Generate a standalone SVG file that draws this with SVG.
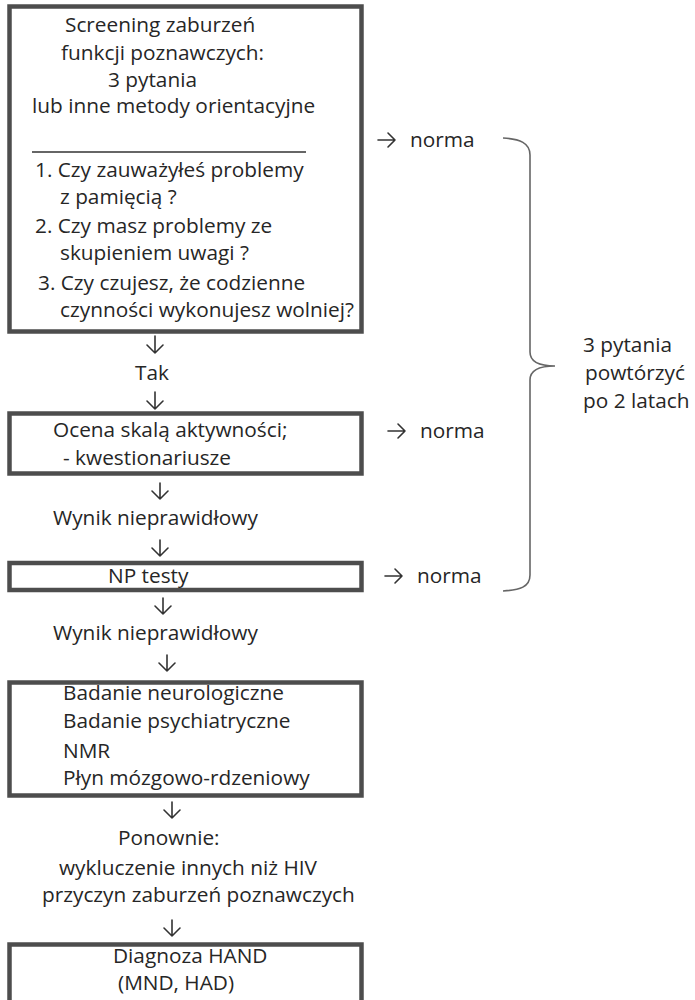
<svg xmlns="http://www.w3.org/2000/svg" width="695" height="1000" viewBox="0 0 695 1000">
<style>
.box{fill:#fff;stroke:#4d4d4d;stroke-width:4.5}
.t{font-family:"Open Sans","Liberation Sans",sans-serif;font-size:20.8px;fill:#262626}
.arr{fill:none;stroke:#333;stroke-width:1.6;stroke-linecap:round;stroke-linejoin:round}
.brace{fill:none;stroke:#666;stroke-width:1.6}
</style>
<rect width="695" height="1000" fill="#fff"/>
<g id="n1">
<rect class="box" x="9.5" y="6.5" width="352" height="325"/>
<text class="t" x="65" y="32">Screening zaburzeń</text>
<text class="t" x="61" y="60">funkcji poznawczych:</text>
<text class="t" x="108" y="87">3 pytania</text>
<text class="t" x="32" y="113">lub inne metody orientacyjne</text>
<line x1="32" y1="152" x2="306" y2="152" stroke="#333" stroke-width="1.3"/>
<text class="t" x="35" y="177">1. Czy zauważyłeś problemy</text>
<text class="t" x="60" y="204">z pamięcią ?</text>
<text class="t" x="35" y="233">2. Czy masz problemy ze</text>
<text class="t" x="60" y="260">skupieniem uwagi ?</text>
<text class="t" x="38" y="290">3. Czy czujesz, że codzienne</text>
<text class="t" x="60" y="317">czynności wykonujesz wolniej?</text>
</g>
<g id="tak"><text class="t" x="135" y="380">Tak</text></g>
<g id="n2">
<rect class="box" x="9.5" y="413.5" width="352" height="60"/>
<text class="t" x="53" y="437">Ocena skalą aktywności;</text>
<text class="t" x="63" y="465">- kwestionariusze</text>
</g>
<g id="w1"><text class="t" x="53" y="525">Wynik nieprawidłowy</text></g>
<g id="n3">
<rect class="box" x="9.5" y="563" width="352" height="27"/>
<text class="t" x="108" y="583">NP testy</text>
</g>
<g id="w2"><text class="t" x="53" y="640">Wynik nieprawidłowy</text></g>
<g id="n4">
<rect class="box" x="9.5" y="682.5" width="352" height="113"/>
<text class="t" x="63" y="700">Badanie neurologiczne</text>
<text class="t" x="63" y="728">Badanie psychiatryczne</text>
<text class="t" x="63" y="758">NMR</text>
<text class="t" x="63" y="785">Płyn mózgowo-rdzeniowy</text>
</g>
<g id="p1">
<text class="t" x="118" y="845">Ponownie:</text>
<text class="t" x="59" y="875">wykluczenie innych niż HIV</text>
<text class="t" x="42" y="902">przyczyn zaburzeń poznawczych</text>
</g>
<g id="n5">
<rect class="box" x="9.5" y="944.5" width="352" height="70"/>
<text class="t" x="113" y="963">Diagnoza HAND</text>
<text class="t" x="118" y="990">(MND, HAD)</text>
</g>
<g id="side">
<text class="t" x="410" y="147">norma</text>
<text class="t" x="420" y="438">norma</text>
<text class="t" x="417" y="583">norma</text>
<text class="t" x="583" y="352">3 pytania</text>
<text class="t" x="585" y="380">powtórzyć</text>
<text class="t" x="583" y="408">po 2 latach</text>
</g>
<g id="connectors">
<path class="arr" d="M155,336 V353 M147,345 L155,353 L163,345"/>
<path class="arr" d="M155,392 V409 M147,401 L155,409 L163,401"/>
<path class="arr" d="M160,483 V499 M152,491 L160,499 L168,491"/>
<path class="arr" d="M160,540 V556 M152,548 L160,556 L168,548"/>
<path class="arr" d="M163,598 V614 M155,606 L163,614 L171,606"/>
<path class="arr" d="M167,655 V671 M159,663 L167,671 L175,663"/>
<path class="arr" d="M172,802 V818 M164,810 L172,818 L180,810"/>
<path class="arr" d="M172,920 V936 M164,928 L172,936 L180,928"/>
<path class="arr" d="M378,140 H395 M388,133 L395,140 L388,147"/>
<path class="arr" d="M388,431 H405 M398,424 L405,431 L398,438"/>
<path class="arr" d="M385,576 H402 M395,569 L402,576 L395,583"/>
<path class="brace" d="M503,138 C520,139 530,143 530,155 V352 C530,362 540,366 555,366 C540,366 530,370 530,380 V575 C530,587 520,590 503,591"/>
</g>
</svg>
